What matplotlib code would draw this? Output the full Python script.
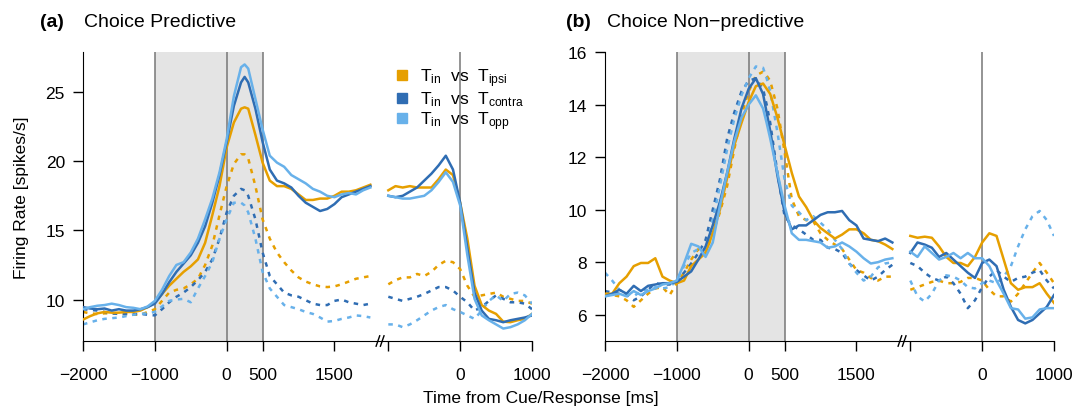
import matplotlib
matplotlib.use("Agg")
import matplotlib.pyplot as plt
from matplotlib.lines import Line2D
from matplotlib.patches import Rectangle

plt.rcParams['font.family'] = ['Liberation Sans', 'DejaVu Sans']
plt.rcParams['mathtext.fontset'] = 'custom'
plt.rcParams['mathtext.rm'] = 'Liberation Sans'
plt.rcParams['axes.unicode_minus'] = True

# time grids (ms)
cue_t = list(range(-2000, 201, 100)) + [250] + list(range(300, 2001, 100))
resp_t = list(range(-1000, 1001, 100))
resp_shift = 3250   # response-aligned part is drawn to the right of the cue part

# ---- (a) Choice Predictive, cue aligned ----
a_cue_ipsi = [8.55, 8.8, 9.0, 9.1, 9.05, 9.05, 9.1, 9.1, 9.2, 9.45, 9.8, 10.4, 11.0, 11.5, 12.0, 12.4,
              12.9, 14.1, 16.1, 18.2, 21.0, 22.8, 23.8, 23.9, 23.8, 21.9, 19.9, 18.6, 18.2, 18.2, 18.0,
              17.6, 17.2, 17.2, 17.3, 17.3, 17.5, 17.8, 17.8, 17.9, 18.1, 18.3]
a_cue_contra = [9.45, 9.35, 9.3, 9.35, 9.2, 9.3, 9.2, 9.2, 9.3, 9.45, 9.7, 10.4, 11.25, 12.0, 12.6, 13.2,
                14.1, 15.3, 17.0, 19.0, 21.4, 24.0, 25.7, 26.1, 25.7, 23.8, 21.4, 19.4, 18.6, 18.4, 18.1,
                17.5, 17.0, 16.7, 16.4, 16.55, 16.9, 17.4, 17.6, 17.8, 18.0, 18.2]
a_cue_opp = [9.3, 9.45, 9.55, 9.6, 9.7, 9.6, 9.45, 9.4, 9.3, 9.5, 9.9, 10.7, 11.7, 12.5, 12.7, 13.4,
             14.4, 15.8, 17.3, 19.2, 21.6, 24.7, 26.8, 27.0, 26.7, 24.5, 22.3, 20.4, 19.9, 19.6, 19.0,
             18.7, 18.4, 18.0, 17.8, 17.5, 17.4, 17.6, 17.7, 17.6, 17.9, 18.1]
a_cue_ipsi_d = [9.1, 9.0, 8.95, 9.0, 9.0, 8.95, 8.95, 8.9, 8.9, 9.1, 9.3, 9.9, 10.5, 10.7, 10.8, 11.1,
                11.5, 12.5, 13.9, 16.1, 18.2, 19.8, 20.5, 20.5, 20.2, 18.2, 15.8, 14.4, 13.4, 12.7, 12.1,
                11.6, 11.3, 11.1, 10.95, 10.9, 10.95, 11.1, 11.3, 11.5, 11.6, 11.7]
a_cue_contra_d = [9.3, 9.25, 9.2, 9.1, 9.0, 8.96, 8.95, 8.95, 8.96, 8.9, 8.85, 9.3, 9.8, 10.2, 10.5, 10.9,
                  11.4, 12.0, 12.9, 14.4, 16.3, 17.5, 18.0, 17.9, 17.5, 15.8, 13.4, 11.7, 11.1, 10.5, 10.3,
                  10.2, 9.95, 9.7, 9.6, 9.6, 9.9, 10.0, 9.8, 9.7, 9.6, 9.7]
a_cue_opp_d = [8.2, 8.35, 8.5, 8.6, 8.65, 8.7, 8.8, 8.9, 8.96, 9.0, 9.1, 9.5, 9.9, 10.0, 10.05, 9.8,
               10.8, 11.7, 12.7, 14.4, 15.8, 17.0, 17.0, 16.8, 16.3, 14.4, 12.0, 10.8, 10.2, 9.6, 9.45,
               9.3, 9.1, 8.96, 8.7, 8.4, 8.45, 8.6, 8.7, 8.85, 8.8, 8.7]

# ---- (a) response aligned ----
a_resp_ipsi = [17.9, 18.2, 18.1, 18.2, 18.1, 18.1, 18.1, 18.7, 19.4, 19.0, 17.0,
               14.4, 11.0, 9.6, 9.2, 8.96, 8.4, 8.36, 8.5, 8.6, 8.96]
a_resp_contra = [17.5, 17.4, 17.5, 17.8, 18.1, 18.6, 19.1, 19.7, 20.4, 19.4, 17.0,
                 13.7, 10.5, 9.2, 8.6, 8.5, 8.36, 8.5, 8.6, 8.7, 8.85]
a_resp_opp = [17.5, 17.4, 17.3, 17.3, 17.4, 17.5, 17.9, 18.5, 19.2, 18.5, 16.8,
              13.2, 10.05, 8.85, 8.5, 8.2, 7.9, 8.0, 8.2, 8.5, 8.96]
a_resp_ipsi_d = [11.1, 11.4, 11.6, 11.6, 11.85, 11.7, 12.0, 12.5, 12.8, 12.7, 12.2,
                 11.0, 10.2, 10.3, 10.4, 10.5, 10.2, 10.05, 9.9, 9.9, 9.7]
a_resp_contra_d = [10.2, 10.05, 9.9, 10.05, 10.2, 10.4, 10.65, 10.9, 10.9, 10.65, 10.2,
                   9.8, 9.2, 9.45, 9.9, 10.3, 10.05, 9.8, 9.8, 9.7, 9.3]
a_resp_opp_d = [8.2, 8.2, 8.0, 8.2, 8.5, 8.85, 9.2, 9.45, 9.6, 9.3, 9.1,
                8.85, 8.6, 9.2, 9.9, 10.3, 9.9, 10.4, 10.5, 10.3, 9.7]

# ---- (b) Choice Non-predictive, cue aligned ----
b_cue_ipsi = [6.8, 6.8, 7.2, 7.45, 7.85, 7.97, 7.97, 8.15, 7.45, 7.3, 7.2, 7.3, 7.85, 8.1, 8.35, 9.1,
              10.0, 11.2, 12.45, 13.3, 14.1, 14.7, 14.8, 14.6, 14.4, 13.5, 12.45, 11.4, 10.5, 10.1, 9.6,
              9.3, 9.1, 8.9, 9.05, 9.25, 9.25, 9.1, 8.85, 8.8, 8.67, 8.5]
b_cue_contra = [6.7, 6.8, 6.95, 6.8, 7.1, 6.9, 7.1, 7.15, 7.2, 7.2, 7.25, 7.45, 7.65, 8.1, 8.6, 9.4,
                10.3, 11.4, 12.7, 13.85, 14.6, 15.0, 14.4, 13.7, 13.0, 11.3, 9.9, 9.25, 9.4, 9.4, 9.6,
                9.8, 9.9, 9.9, 9.95, 9.6, 9.4, 8.9, 8.85, 8.8, 8.9, 8.75]
b_cue_opp = [6.7, 6.75, 6.8, 6.7, 6.9, 6.75, 6.9, 7.0, 7.15, 7.2, 7.3, 7.95, 8.7, 8.6, 8.2, 8.75,
             10.15, 11.4, 12.6, 13.5, 14.0, 14.35, 13.85, 13.3, 12.7, 11.4, 10.15, 9.1, 8.85, 8.85, 8.8,
             8.75, 8.55, 8.6, 8.75, 8.6, 8.4, 8.15, 7.95, 8.0, 8.1, 8.15]
b_cue_ipsi_d = [6.8, 6.75, 6.7, 6.55, 6.3, 6.55, 6.8, 7.0, 7.05, 6.75, 7.2, 7.6, 8.1, 8.5, 8.35, 9.1,
                9.9, 10.9, 12.3, 13.6, 14.5, 15.1, 15.25, 15.1, 14.9, 13.85, 12.2, 10.4, 9.75, 9.6, 9.55,
                9.1, 8.85, 8.67, 8.5, 8.1, 7.7, 7.6, 7.4, 7.3, 7.45, 7.45]
b_cue_contra_d = [6.9, 6.85, 6.8, 6.75, 6.55, 6.7, 6.95, 7.2, 7.15, 7.15, 7.3, 7.6, 7.95, 8.35, 8.85, 10.0,
                  11.15, 12.7, 13.7, 14.5, 14.9, 15.0, 14.6, 14.0, 13.3, 11.4, 9.75, 9.4, 9.25, 9.05, 8.85,
                  8.85, 8.55, 8.5, 8.35, 7.95, 7.7, 7.5, 7.3, 7.45, 7.7, 7.9]
b_cue_opp_d = [7.6, 7.3, 6.95, 6.8, 6.7, 6.9, 6.95, 7.05, 7.0, 7.05, 7.3, 7.85, 8.35, 8.5, 8.5, 9.6,
               10.9, 12.3, 13.45, 14.35, 15.0, 15.45, 15.4, 15.0, 14.5, 12.95, 11.15, 10.15, 9.9, 9.6, 9.75,
               9.5, 9.25, 8.85, 8.5, 7.95, 7.6, 7.3, 7.45, 7.8, 7.95, 8.0]

# ---- (b) response aligned ----
b_resp_ipsi = [9.0, 8.93, 8.97, 8.93, 8.6, 8.2, 7.97, 7.97, 7.85, 8.2, 8.75,
               9.1, 9.0, 8.1, 7.2, 6.95, 7.05, 7.05, 7.2, 6.8, 6.45]
b_resp_contra = [8.35, 8.75, 8.67, 8.55, 8.2, 8.35, 8.1, 7.85, 7.6, 7.4, 7.97,
                 8.1, 7.85, 6.95, 6.3, 5.8, 5.67, 5.8, 6.05, 6.3, 6.75]
b_resp_opp = [8.4, 8.2, 8.6, 8.35, 8.1, 8.2, 8.35, 8.15, 8.35, 8.15, 8.15,
              7.85, 7.3, 6.8, 6.25, 6.2, 5.85, 5.9, 6.2, 6.25, 6.25]
b_resp_ipsi_d = [6.95, 7.05, 7.15, 7.25, 7.3, 7.2, 7.2, 7.25, 7.4, 7.4, 7.3,
                 6.95, 6.7, 6.7, 6.5, 6.8, 7.2, 7.6, 7.97, 7.6, 7.2]
b_resp_contra_d = [7.97, 7.85, 7.6, 7.4, 7.3, 7.45, 7.2, 6.8, 6.25, 6.55, 7.05,
                   7.45, 7.7, 7.45, 7.25, 7.4, 7.45, 7.6, 7.7, 7.3, 7.0]
b_resp_opp_d = [7.3, 6.7, 6.5, 6.8, 7.3, 7.5, 7.45, 7.3, 7.05, 7.0, 7.2,
                7.3, 7.2, 7.45, 7.85, 8.6, 9.25, 9.75, 9.95, 9.6, 9.0]

labels = [r"$\mathrm{T_{in}}$  vs  $\mathrm{T_{ipsi}}$",
          r"$\mathrm{T_{in}}$  vs  $\mathrm{T_{contra}}$",
          r"$\mathrm{T_{in}}$  vs  $\mathrm{T_{opp}}$"]
colors = ["#E69F00", "#2F6DB3", "#68B1EA"]


def draw_panel(ax, cue_solid, cue_dash, resp_solid, resp_dash, ylim, yticks):
    ax.set_xlim(-2000, 1000 + resp_shift)
    ax.set_ylim(*ylim)
    ax.add_patch(Rectangle((-1000, ylim[0]), 1500, ylim[1] - ylim[0],
                           facecolor="#e4e4e4", edgecolor="none", zorder=0))
    for xv in [-1000, 0, 500, resp_shift]:
        ax.axvline(xv, color="#777777", lw=1.1, zorder=1)
    rt = [t + resp_shift for t in resp_t]
    for i in range(3):
        ax.plot(cue_t, cue_dash[i], color=colors[i], lw=1.8, ls=(0, (1.8, 2.2)), zorder=2)
        ax.plot(rt, resp_dash[i], color=colors[i], lw=1.8, ls=(0, (1.8, 2.2)), zorder=2)
    for i in range(3):
        ax.plot(cue_t, cue_solid[i], color=colors[i], lw=1.8, zorder=3)
        ax.plot(rt, resp_solid[i], color=colors[i], lw=1.8, zorder=3)

    ax.spines['top'].set_visible(False)
    ax.spines['right'].set_visible(False)
    ax.set_yticks(yticks)
    ax.set_xticks([-2000, -1000, 0, 500, 1500, -1000 + resp_shift, resp_shift, 1000 + resp_shift])
    ax.set_xticklabels(["\u22122000", "\u22121000", "0", "500", "1500", "", "0", "1000"])
    ax.tick_params(axis='both', direction='out', length=7, width=1, labelsize=12.5)
    ax.tick_params(axis='x', pad=12)
    ax.tick_params(axis='y', pad=6)

    # axis break mark
    tr = ax.get_xaxis_transform()
    for xb in [2105, 2165]:
        ax.plot([xb - 25, xb + 25], [-0.018, 0.018], transform=tr, color="black",
                lw=1, clip_on=False, zorder=5)


fig = plt.figure(figsize=(10.78, 4.14), dpi=100)
ax_a = fig.add_axes([83 / 1078, 72 / 414, 449 / 1078, 289 / 414])
ax_b = fig.add_axes([605 / 1078, 72 / 414, 449 / 1078, 289 / 414])

draw_panel(ax_a,
           [a_cue_ipsi, a_cue_contra, a_cue_opp],
           [a_cue_ipsi_d, a_cue_contra_d, a_cue_opp_d],
           [a_resp_ipsi, a_resp_contra, a_resp_opp],
           [a_resp_ipsi_d, a_resp_contra_d, a_resp_opp_d],
           (7, 27.9), [10, 15, 20, 25])
draw_panel(ax_b,
           [b_cue_ipsi, b_cue_contra, b_cue_opp],
           [b_cue_ipsi_d, b_cue_contra_d, b_cue_opp_d],
           [b_resp_ipsi, b_resp_contra, b_resp_opp],
           [b_resp_ipsi_d, b_resp_contra_d, b_resp_opp_d],
           (5, 16), [6, 8, 10, 12, 14, 16])

handles = [Line2D([], [], ls="none", marker="s", markersize=7, color=c) for c in colors]
ax_a.legend(handles, labels, loc="upper left", bbox_to_anchor=(0.68, 0.975), frameon=False,
            fontsize=12.5, handlelength=0.8, handletextpad=0.6, labelspacing=0.05,
            borderaxespad=0)

ax_a.set_ylabel("Firing Rate [spikes/s]", fontsize=12.5, labelpad=12)

fig.text(40 / 1078, 1 - 27 / 414, "(a)", fontsize=14, fontweight="bold", va="baseline")
fig.text(84 / 1078, 1 - 27 / 414, "Choice Predictive", fontsize=14, va="baseline")
fig.text(566 / 1078, 1 - 27 / 414, "(b)", fontsize=14, fontweight="bold", va="baseline")
fig.text(607 / 1078, 1 - 27 / 414, "Choice Non\u2212predictive", fontsize=14, va="baseline")
fig.text(541 / 1078, 1 - 399 / 414, "Time from Cue/Response [ms]", fontsize=12.5,
         ha="center", va="center")

fig.savefig("out.png", dpi=100)
